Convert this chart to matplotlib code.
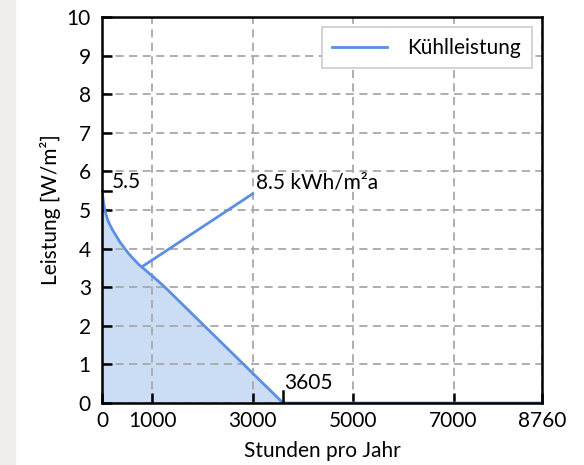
import matplotlib
matplotlib.use("Agg")
import matplotlib.pyplot as plt
from matplotlib.patches import Rectangle

plt.rcParams['font.family'] = ['Lato', 'DejaVu Sans']

# Data
hours = [0, 30, 60, 120, 193, 357, 523, 722, 921, 1100, 1253, 3605, 8760]
power = [5.5, 5.2, 4.97, 4.72, 4.52, 4.17, 3.88, 3.6, 3.38, 3.18, 3.0, 0.0, 0.0]
x_ticks = [0, 1000, 3000, 5000, 7000, 8760]
y_ticks = list(range(0, 11))
peak_value = 5.5
zero_hour = 3605
energy_label = "8.5 kWh/m²a"
energy_line_x = [820, 3000]
energy_line_y = [3.55, 5.42]

blue = '#5b8fe3'
fill_c = '#cbdcf5'
fs = 15

fig = plt.figure(figsize=(5.84, 4.65), dpi=100)
fig.patches.append(Rectangle((0, 0), 15 / 584, 1, transform=fig.transFigure,
                             color='#efeeea', zorder=0))
ax = fig.add_axes([102 / 584, 1 - 403 / 465, 440 / 584, 386 / 465])

ax.fill_between(hours, power, 0, color=fill_c, zorder=1, lw=0)
ax.plot(hours, power, color=blue, lw=2, label='Kühlleistung', zorder=3)
ax.plot(energy_line_x, energy_line_y, color=blue, lw=2, zorder=3)

ax.set_xlim(0, 8760)
ax.set_ylim(0, 10)
ax.set_xticks(x_ticks)
ax.set_yticks(y_ticks)
ax.tick_params(direction='in', length=7, width=1.8, labelsize=fs, color='black',
               pad=6)
ax.tick_params(axis='y', pad=8)
ax.grid(True, ls=(0, (4.5, 3)), color='#a8a8a8', lw=1.3, zorder=0)
for s in ax.spines.values():
    s.set_linewidth(1.8)
    s.set_zorder(5)

# extra marks
ax.plot([0, 170], [peak_value, peak_value], color='black', lw=1.8, zorder=4,
        clip_on=False)
ax.text(200, peak_value - 0.04, f"{peak_value}", fontsize=fs, va='bottom',
        ha='left')
ax.plot([zero_hour, zero_hour], [0, 0.32], color='black', lw=1.8, zorder=4)
ax.text(zero_hour + 30, 0.26, f"{zero_hour}", fontsize=fs, va='bottom', ha='left')
ax.text(energy_line_x[1] + 70, energy_line_y[1] + 0.3, energy_label,
        fontsize=fs, va='center', ha='left')

ax.set_xlabel('Stunden pro Jahr', fontsize=fs, labelpad=7)
ax.set_ylabel('Leistung [W/m²]', fontsize=fs, labelpad=4)

leg = ax.legend(loc='upper right', fontsize=fs, handlelength=2.6,
                borderaxespad=0.5, fancybox=False, framealpha=1,
                edgecolor='#cccccc', borderpad=0.5, handletextpad=1.0)
leg.get_frame().set_linewidth(1.2)

fig.savefig('out.png', dpi=100)
